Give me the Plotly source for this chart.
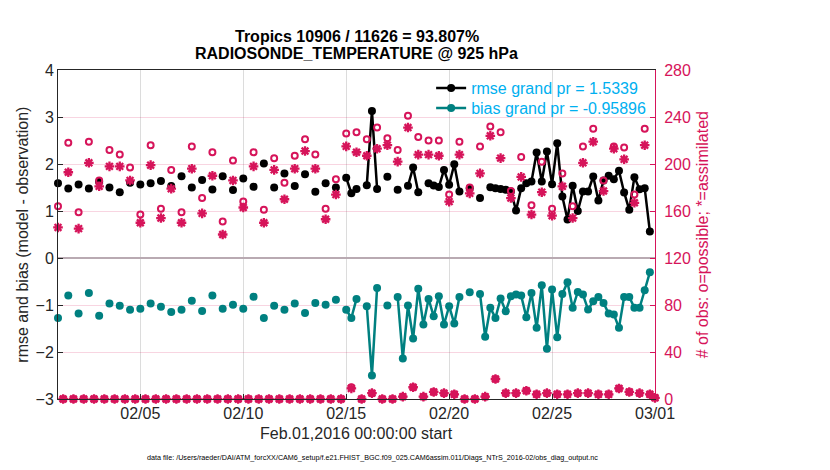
import pandas as pd
import plotly.graph_objects as go

N = None

# 6-hourly bins, Feb 01 00Z .. Mar 01 00Z
times = pd.date_range('2016-02-01 00:00', '2016-03-01 00:00', freq='6h')

# rmse (model - observation), prior
rmse = [1.59, N, 1.48, N, 1.565, N, 1.48, N,
        1.62, N, 1.50, N, 1.40, N, 1.60, N,
        1.565, N, 1.59, N, 1.636, N, 1.53, N,
        1.74, N, 1.50, N, 1.66, N, 1.46, N,
        1.74, N, 1.445, N, 1.69, N, 1.516, N,
        2.01, N, 1.50, N, 1.80, N, 1.53, N,
        1.78, N, 1.41, N, 1.59, N, 1.50, N,
        1.71, 1.38, 1.47, N, 1.55, 3.13, 1.47, N,
        1.73, N, 1.45, N, 1.535, 1.925, 1.40, N,
        1.59, 1.54, 1.51, 1.875, 1.557, 1.996, 1.415, N,
        1.486, N, 1.274, N, 1.507, 1.486, 1.47, 1.45,
        1.415, 1.012, 1.486, 1.59, 1.628, 2.243, 1.628, 2.265,
        1.571, 2.44, 1.31, 0.82, 1.536, 1.0, 1.415, 1.415,
        1.734, 1.224, 1.649, 1.748, 1.677, 1.854, 1.394, 1.026,
        1.72, 1.465, 1.486, 0.566, N]

# bias (model - observation), prior
bias = [-1.277, N, -0.80, N, -1.18, N, -0.745, N,
        -1.227, N, -0.97, N, -1.014, N, -1.10, N,
        -1.078, N, -0.97, N, -1.035, N, -1.149, N,
        -1.10, N, -0.908, N, -1.128, N, -0.80, N,
        -1.078, N, -0.993, N, -1.078, N, -0.823, N,
        -1.277, N, -1.014, N, -1.10, N, -0.97, N,
        -1.17, N, -0.957, N, -0.993, N, -0.887, N,
        -1.10, -1.277, -0.87, N, -1.026, -2.498, -0.637, N,
        -1.012, N, -0.828, -2.137, -1.012, -1.713, -0.655, -1.415,
        -0.87, -1.24, -0.814, -1.415, -1.026, -1.394, -0.828, N,
        -0.729, N, -0.764, -1.677, -1.06, -1.274, -0.863, -1.132,
        -0.814, -0.778, -0.80, -1.26, -0.743, -1.486, -0.58, -1.932,
        -0.672, -1.684, -0.764, -0.517, -1.06, -0.722, -0.778, -1.097,
        -0.92, -0.828, -0.955, -1.182, -1.2, -1.486, -0.828, -0.828,
        -1.06, -1.06, -0.686, -0.304, N]

# number of obs possible
n_poss = [164, 0, 218, 0, 159, 0, 219, 0,
          186, 0, 212, 0, 208, 0, 197, 0,
          157, 0, 216, 0, 162, 0, 195, 0,
          159, 0, 215, 0, 171, 0, 210, 0,
          151, 0, 203, 0, 168, 0, 210, 0,
          161, 0, 205, 0, 184, 0, 207, 0,
          221, 0, 208, 0, 162, 0, 187, 0,
          226, 10, 227, 0, 221, 5, 231, 0,
          222, 0, 212, 2, 241, 10, 223, 2,
          220, 6, 220, 5, 174, 4, 219, 0,
          180, 0, 215, 2, 232, 17, 227, 5,
          177, 5, 206, 7, 165, 4, 202, 5,
          162, 4, 192, 4, 164, 5, 215, 5,
          230, 4, 186, 4, 215, 9, 214, 6,
          174, 5, 230, 4, 1]

# number of obs assimilated
n_used = [146, 0, 193, 0, 145, 0, 201, 0,
          181, 0, 198, 0, 198, 0, 186, 0,
          150, 0, 199, 0, 154, 0, 179, 0,
          150, 0, 196, 0, 158, 0, 190, 0,
          140, 0, 186, 0, 163, 0, 198, 0,
          150, 0, 195, 0, 170, 0, 196, 0,
          211, 0, 196, 0, 153, 0, 174, 0,
          215, 9, 210, 0, 207, 5, 213, 0,
          216, 0, 202, 2, 231, 10, 208, 2,
          208, 6, 207, 5, 168, 4, 208, 0,
          175, 0, 192, 2, 224, 17, 205, 5,
          171, 5, 189, 7, 157, 4, 176, 5,
          156, 4, 181, 4, 154, 5, 201, 5,
          219, 4, 177, 4, 213, 9, 204, 6,
          167, 5, 216, 4, 1]

xticks = ['2016-02-05', '2016-02-10', '2016-02-15', '2016-02-20', '2016-02-25', '2016-03-01']
left_ticks = [-3, -2, -1, 0, 1, 2, 3, 4]
right_ticks = [0, 40, 80, 120, 160, 200, 240, 280]

pink = 'rgb(214,20,90)'
teal = 'rgb(0,128,128)'
txt = '#262626'
font = 'Liberation Sans, Arial, Helvetica, sans-serif'

fig = go.Figure()

fig.add_trace(go.Scatter(x=times, y=rmse, mode='lines+markers', name='rmse grand pr = 1.5339',
                         line=dict(color='black', width=2.5),
                         marker=dict(color='black', size=8), cliponaxis=False, legend='legend'))
fig.add_trace(go.Scatter(x=times, y=bias, mode='lines+markers', name='bias grand pr = -0.95896',
                         line=dict(color=teal, width=2.5),
                         marker=dict(color=teal, size=8), cliponaxis=False, legend='legend2'))
fig.add_trace(go.Scatter(x=times, y=n_poss, mode='markers', yaxis='y2', showlegend=False,
                         marker=dict(symbol='circle-open', size=6, color=pink, line=dict(width=2, color=pink)),
                         cliponaxis=False))
fig.add_trace(go.Scatter(x=times, y=n_used, mode='markers', yaxis='y2', showlegend=False,
                         marker=dict(symbol='asterisk-open', size=8, color=pink, line=dict(width=2.3, color=pink)),
                         cliponaxis=False))

leg = dict(xanchor='left', yanchor='middle', bgcolor='rgba(0,0,0,0)',
           font=dict(size=16, color='rgb(0,176,240)'))

fig.update_layout(
    width=814, height=454,
    margin=dict(l=50, r=167, t=62, b=63),
    paper_bgcolor='white', plot_bgcolor='white',
    font=dict(family=font, size=16, color=txt),
    showlegend=True,
    legend=dict(x=0.625, y=0.945, **leg),
    legend2=dict(x=0.625, y=0.884, **leg),
    xaxis=dict(range=['2016-02-01', '2016-03-01'], tickvals=xticks, tickformat='%m/%d',
               showgrid=True, gridcolor='rgb(220,220,220)', gridwidth=1,
               showline=True, linecolor=txt, linewidth=1, mirror=True,
               ticks='inside', ticklen=5, tickcolor=txt, zeroline=False,
               tickfont=dict(size=16, color=txt)),
    yaxis=dict(range=[-3, 4], tickvals=left_ticks, showgrid=False,
               zeroline=True, zerolinecolor='rgb(185,170,178)', zerolinewidth=2,
               showline=True, linecolor=txt, linewidth=1,
               ticks='inside', ticklen=5, tickcolor=txt,
               tickfont=dict(size=16, color=txt)),
    yaxis2=dict(range=[0, 280], tickvals=right_ticks, overlaying='y', side='right',
                showgrid=True, gridcolor='rgba(214,20,90,0.18)', gridwidth=1, zeroline=False,
                showline=True, linecolor=pink, linewidth=1,
                ticks='inside', ticklen=5, tickcolor=pink, ticklabelstandoff=5,
                tickfont=dict(size=16, color=pink)),
)

fig.add_annotation(text='<b>Tropics 10906 / 11626 = 93.807%</b>', xref='paper', yref='paper',
                   x=0.5, y=1.103, showarrow=False, font=dict(size=16, color='black'), yanchor='middle')
fig.add_annotation(text='<b>RADIOSONDE_TEMPERATURE @ 925 hPa</b>', xref='paper', yref='paper',
                   x=0.5, y=1.049, showarrow=False, font=dict(size=16, color='black'), yanchor='middle')
fig.add_annotation(text='Feb.01,2016 00:00:00 start', xref='paper', yref='paper',
                   x=0.5, y=-0.106, showarrow=False, font=dict(size=16, color=txt), yanchor='middle')
fig.add_annotation(text='rmse and bias (model - observation)', xref='paper', yref='paper',
                   x=-0.060, y=0.5, showarrow=False, textangle=-90, font=dict(size=16, color=txt),
                   xanchor='center', yanchor='middle')
fig.add_annotation(text='# of obs: o=possible; *=assimilated', xref='paper', yref='paper',
                   x=1.080, y=0.5, showarrow=False, textangle=-90, font=dict(size=16, color=pink),
                   xanchor='center', yanchor='middle')
fig.add_annotation(text='data file: /Users/raeder/DAI/ATM_forcXX/CAM6_setup/f.e21.FHIST_BGC.f09_025.CAM6assim.011/Diags_NTrS_2016-02/obs_diag_output.nc',
                   xref='paper', yref='paper', x=0.526, y=-0.179, showarrow=False,
                   font=dict(size=7.2, color='black'), yanchor='middle')

fig.write_html("out.html")
